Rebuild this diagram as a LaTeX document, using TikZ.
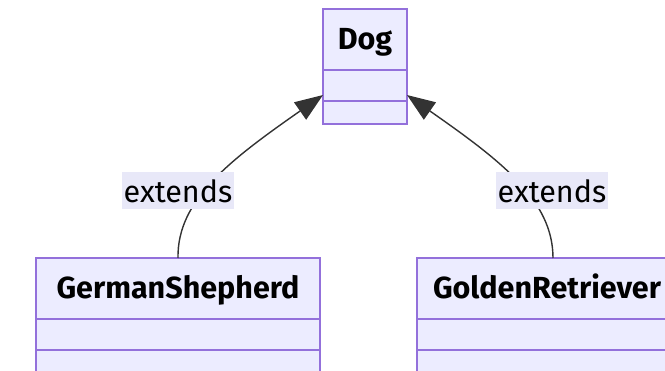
\documentclass[tikz,border=0pt]{standalone}
\usepackage{fontspec}
\setmainfont{Fira Sans}
\definecolor{umlFill}{HTML}{ECECFF}
\definecolor{umlLine}{HTML}{9370DB}
\definecolor{umlEdge}{HTML}{333333}
\definecolor{umlLabel}{HTML}{E8E8F8}
\usetikzlibrary{arrows.meta, positioning}

\begin{document}
\begin{tikzpicture}[x=1pt, y=-1pt,
  cls/.style={draw=umlLine, fill=umlFill, line width=1.6pt, outer sep=0pt,
    inner sep=0pt, font=\fontsize{30.5}{34}\selectfont\bfseries},
  clshead/.style={cls, minimum height=61pt, text height=24pt, text depth=3pt},
  clsattr/.style={cls, minimum height=31pt},
  clsops/.style={cls, minimum height=23pt},
  extends/.style={umlEdge, line width=1.4pt,
    -{Triangle[length=28pt, width=21pt]}},
  edgelbl/.style={fill=umlLabel, inner xsep=1.5pt, inner ysep=0pt,
    minimum height=37pt, font=\fontsize{30.5}{34}\selectfont}]
  \useasboundingbox (0,0) rectangle (665,371);
  \clip (0,0) rectangle (665,371);

  % parent class
  \node[clshead, minimum width=84pt] (dog) at (365,39.5) {Dog};
  \node[clsattr, minimum width=84pt, below=0pt of dog] (dogattr) {};
  \node[clsops, minimum width=84pt, below=0pt of dogattr] (dogops) {};

  % subclasses
  \node[clshead, minimum width=284pt] (gs) at (178,288.5) {GermanShepherd};
  \node[clsattr, minimum width=284pt, below=0pt of gs] (gsattr) {};
  \node[clsops, minimum width=284pt, below=0pt of gsattr] (gsops) {};

  \node[clshead, inner xsep=16pt, anchor=west] (gr) at (417,288.5) {GoldenRetriever};
  \node[clsattr, minimum width=300pt, anchor=north west] (grattr) at (gr.south west) {};
  \node[clsops, minimum width=300pt, anchor=north west] (grops) at (grattr.south west) {};

  % inheritance edges
  \draw[extends] (gs.north) .. controls (177,200) and (230,160)
    .. ([yshift=6pt]dogattr.south west);
  \draw[extends] (gr.north west -| 553,0) .. controls (553,200) and (500,160)
    .. ([yshift=6pt]dogattr.south east);
  \node[edgelbl] (lblgs) at (178,191) {extends};
  \node[edgelbl] (lblgr) at (552,191) {extends};
\end{tikzpicture}
\end{document}
